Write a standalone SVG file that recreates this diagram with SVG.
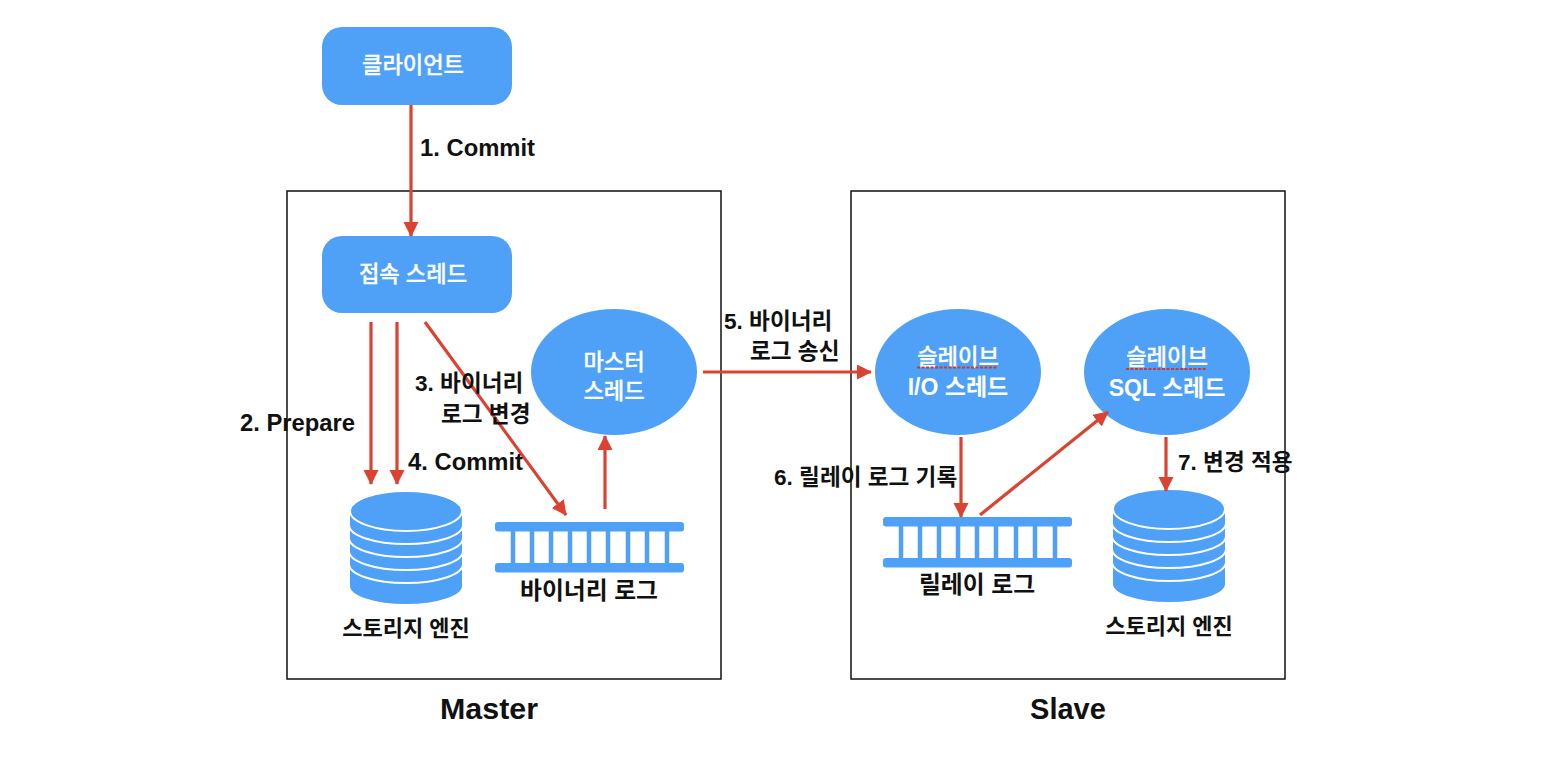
<svg xmlns="http://www.w3.org/2000/svg" xmlns:xlink="http://www.w3.org/1999/xlink" width="1560" height="764" viewBox="0 0 1560 764">
<style>
text{font-family:"Liberation Sans","Noto Sans CJK KR",sans-serif;font-weight:700}
.b{fill:#4ea1f7}
.w{fill:#fff;font-size:22.200px;text-anchor:middle;font-weight:500;stroke:#fff;stroke-width:.3px}
.wb{font-weight:700;font-size:23px;stroke-width:0}
.k{fill:#111;font-size:22.600px}
.e{font-size:23.800px}
.t{fill:#111;font-size:22px;text-anchor:middle}
.t2{font-size:23.800px}
.f{fill:#111;font-size:30.400px;text-anchor:middle}
.frame{fill:none;stroke:#111;stroke-width:1.500}
.c{fill:none;stroke:#db4232;stroke-width:3.200}
.u{fill:none;stroke:#d0392f;stroke-width:2.200;stroke-dasharray:3 1.500}
.layer{fill:#4ea1f7;stroke:#fff;stroke-width:2}
</style>
<defs>
<marker id="a" markerUnits="userSpaceOnUse" markerWidth="16" markerHeight="16" refX="14" refY="7.500" orient="auto"><path d="M0 0L15 7.500L0 15Z" fill="#db4232"/></marker>
<g id="cyl">
<path class="layer" d="M-57 55V75c0 10.500 25.500 19 57 19s57-8.500 57-19V55"/>
<path class="layer" d="M-57 34V53c0 10.500 25.500 19 57 19s57-8.500 57-19V34"/>
<path class="layer" d="M-57 21V40c0 10.500 25.500 19 57 19s57-8.500 57-19V21"/>
<path class="layer" d="M-57 8V27c0 10.500 25.500 19 57 19s57-8.500 57-19V8"/>
<path class="layer" d="M-57 -5V14c0 10.500 25.500 19 57 19s57-8.500 57-19V-5"/>
<ellipse class="layer" cx="0" cy="0" rx="56" ry="20"/>
</g>
<g id="log">
<rect class="b" x="0" y="0" width="189" height="9.500" rx="3"/>
<rect class="b" x="0" y="41" width="189" height="9.500" rx="3"/>
<path d="M18 5v40M37 5v40M56 5v40M75 5v40M94 5v40M113 5v40M133 5v40M152 5v40M172 5v40" stroke="#4ea1f7" stroke-width="4.500"/>
</g>
</defs>
<rect width="1560" height="764" fill="#fff"/>

<g id="master-frame"><rect class="frame" x="287" y="191" width="434" height="488"/><text class="f" x="489" y="719">Master</text></g>
<g id="slave-frame"><rect class="frame" x="851" y="191" width="434" height="488"/><text class="f" x="1068" y="719" style="font-size:29px">Slave</text></g>

<g id="client"><rect class="b" x="322" y="27" width="190" height="78" rx="20"/><text class="w" x="413" y="73">클라이언트</text></g>
<g id="conn-thread"><rect class="b" x="322" y="236" width="190" height="77" rx="20"/><text class="w" x="413" y="282">접속 스레드</text></g>
<g id="master-thread"><ellipse class="b" cx="614" cy="372" rx="83" ry="63"/><text class="w" x="614" y="370">마스터</text><text class="w" x="614" y="399">스레드</text></g>
<g id="slave-io"><ellipse class="b" cx="958" cy="372" rx="83" ry="63"/><text class="w" x="958" y="365">슬레이브</text><path class="u" d="M917 367.500H998"/><text class="w wb" x="958" y="395">I/O 스레드</text></g>
<g id="slave-sql"><ellipse class="b" cx="1167" cy="372" rx="83" ry="63"/><text class="w" x="1167" y="365">슬레이브</text><path class="u" d="M1126 369H1207"/><text class="w wb" x="1167" y="396">SQL 스레드</text></g>
<g id="storage-master"><use xlink:href="#cyl" href="#cyl" x="406" y="511"/><text class="t" x="406" y="636">스토리지 엔진</text></g>
<g id="binlog"><use xlink:href="#log" href="#log" x="495" y="522"/><text class="t t2" x="589" y="599">바이너리 로그</text></g>
<g id="relaylog"><use xlink:href="#log" href="#log" x="883" y="517"/><text class="t t2" x="977" y="593">릴레이 로그</text></g>
<g id="storage-slave"><use xlink:href="#cyl" href="#cyl" x="1169" y="509"/><text class="t" x="1169" y="634">스토리지 엔진</text></g>

<g id="connectors">
<path class="c" marker-end="url(#a)" d="M411 105V236"/>
<path class="c" marker-end="url(#a)" d="M371 322V484"/>
<path class="c" marker-end="url(#a)" d="M397 322V484"/>
<path class="c" marker-end="url(#a)" d="M425 322L566 515"/>
<path class="c" marker-end="url(#a)" d="M605 509V436"/>
<path class="c" marker-end="url(#a)" d="M703 372H871"/>
<path class="c" marker-end="url(#a)" d="M961 437V517"/>
<path class="c" marker-end="url(#a)" d="M980 515L1108 412"/>
<path class="c" marker-end="url(#a)" d="M1166 437V491"/>
</g>

<g id="labels">
<text class="k e" x="420" y="156">1. Commit</text>
<text class="k e" x="240" y="431">2. Prepare</text>
<text class="k" x="415" y="391">3. 바이너리</text>
<text class="k" x="441" y="422">로그 변경</text>
<text class="k e" x="408" y="470">4. Commit</text>
<text class="k" x="724" y="329">5. 바이너리</text>
<text class="k" x="750" y="359">로그 송신</text>
<text class="k" x="774" y="485">6. 릴레이 로그 기록</text>
<text class="k" x="1178" y="470">7. 변경 적용</text>
</g>
</svg>
